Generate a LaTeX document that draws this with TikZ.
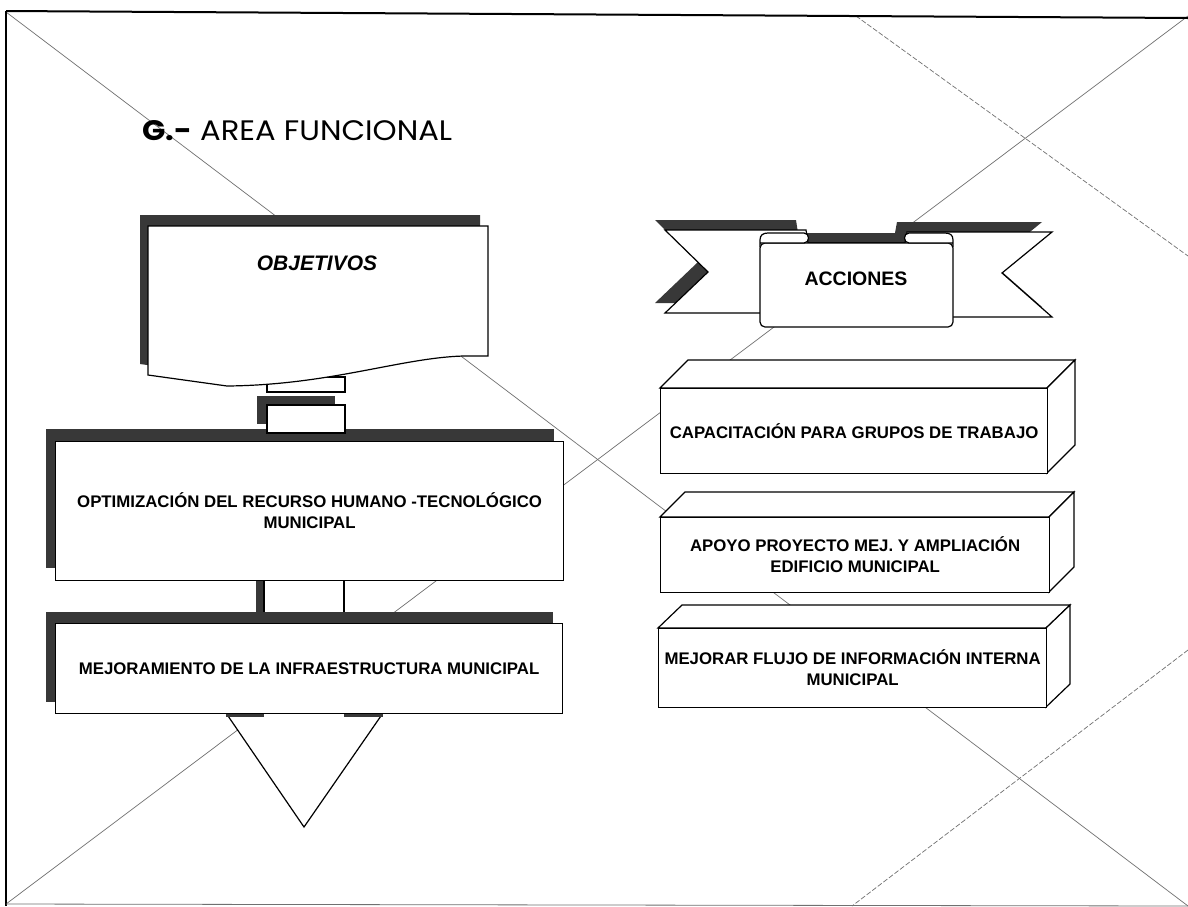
\documentclass[tikz,border=0pt]{standalone}
\usepackage{fontspec}
\usepackage{graphicx}
\newfontfamily\arialf{Liberation Sans}
\newfontfamily\titlef{Poppins}
\definecolor{shad}{HTML}{383838}
\definecolor{bgl}{HTML}{707070}
\tikzset{
  bgline/.style={draw=bgl, line width=0.7pt},
  shadowfill/.style={fill=shad, draw=none},
  boxw/.style={draw=black, fill=white, line width=1.2pt, line join=miter},
  boxtext/.style={font=\arialf\bfseries\fontsize{16.8}{21}\selectfont, align=center, text=black},
}
\begin{document}
\begin{tikzpicture}[x=1pt,y=-1pt]
\useasboundingbox (0,0) rectangle (1188,906);
\fill[white] (0,0) rectangle (1188,906);
% background template lines
\draw[bgline] (6,12) -- (1188,906);
\draw[bgline] (6,904) -- (1188,16);
\draw[bgline, dash pattern=on 5pt off 2pt] (856,16) -- (1188,256);
\draw[bgline, dash pattern=on 5pt off 2pt] (1188,650) -- (852,906);
% frame
\draw[line width=2pt] (6,11) -- (1188,18);
\draw[line width=1.3pt] (6,11) -- (6,906);
\draw[bgl, line width=0.8pt] (6,904) -- (1188,906);
% title
\node[anchor=base west, inner sep=0pt] (title) at (142,140)
  {\resizebox{310pt}{20pt}{\titlef{\bfseries G.-} AREA FUNCIONAL}};

% ---------- left column ----------
% small connector rectangle 1
\draw[boxw] (267,377) rectangle (345,392);
% OBJETIVOS document shape
\fill[shadowfill, shift={(-8,-11)}] (148,226) -- (488,226) -- (488,356) -- (463,356)
  .. controls (400,358) and (330,385) .. (227,386) -- (148,375) -- cycle;
\draw[boxw] (148,226) -- (488,226) -- (488,356) -- (463,356)
  .. controls (400,358) and (330,385) .. (227,386) -- (148,375) -- cycle;
\node[font=\arialf\bfseries\itshape\fontsize{21}{25}\selectfont] (obj) at (317,263) {OBJETIVOS};

% OPTIMIZACION shadow
\fill[shadowfill] (46,429) rectangle (554,568);
% small connector rectangle 2
\fill[shadowfill] (257,396) rectangle (335,424);
\draw[boxw] (267,405) rectangle (345,433);
% connector between the two boxes
\fill[shadowfill] (256,572) rectangle (336,630);
\draw[boxw] (264,575) rectangle (344,628);
% OPTIMIZACION box
\node[boxw, minimum width=508pt, minimum height=139pt, inner sep=0pt, anchor=north west,
      boxtext] (opt) at (55,441) {OPTIMIZACIÓN DEL RECURSO HUMANO -TECNOLÓGICO\\MUNICIPAL};

% triangle
\draw[boxw] (226,713) -- (383,713) -- (304,827) -- cycle;
\fill[shadowfill] (226,711) rectangle (264,717);
\fill[shadowfill] (344,711) rectangle (383,717);
% MEJORAMIENTO
\fill[shadowfill] (46,612) rectangle (553,702);
\node[boxw, minimum width=507pt, minimum height=90pt, inner sep=0pt, anchor=north west,
      boxtext] (mej) at (55,623) {MEJORAMIENTO DE LA INFRAESTRUCTURA MUNICIPAL};

% ---------- ACCIONES ribbon ----------
\fill[shadowfill, shift={(-10,-10)}] (665,230) -- (806,230) -- (808,243) -- (905,243) -- (907,232)
  -- (1052,232) -- (1002,273) -- (1052,317) -- (900,317) -- (820,313) -- (665,313) -- (708,272) -- cycle;
\draw[boxw] (665,230) -- (806,230) -- (808,243) -- (905,243) -- (907,232)
  -- (1052,232) -- (1002,273) -- (1052,317) -- (900,317) -- (820,313) -- (665,313) -- (708,272) -- cycle;
\draw[boxw, rounded corners=5pt] (760,243) -- (760,327) -- (953,327) -- (953,243) -- cycle;
\draw[boxw] (760,247) -- (760,240) .. controls (760,235) and (763,233) .. (768,233) -- (804,233)
  .. controls (810,233) and (810,243) .. (804,243) -- (760,243);
\draw[boxw] (953,247) -- (953,240) .. controls (953,235) and (950,233) .. (945,233) -- (909,233)
  .. controls (903,233) and (903,243) .. (909,243) -- (953,243);
\node[font=\arialf\bfseries\fontsize{19.5}{23}\selectfont] (acc) at (856,279) {ACCIONES};

% ---------- 3D boxes ----------
% CAPACITACION
\draw[boxw] (660,388) -- (688,360) -- (1075,360) -- (1047,388) -- cycle;
\draw[boxw] (1047,388) -- (1075,360) -- (1075,445) -- (1047,473) -- cycle;
\node[boxw, minimum width=387pt, minimum height=85pt, inner sep=0pt, anchor=north west,
      boxtext] (cap) at (660,388) {CAPACITACIÓN PARA GRUPOS DE TRABAJO};
% APOYO
\draw[boxw] (660,517) -- (685,492) -- (1074,492) -- (1049,517) -- cycle;
\draw[boxw] (1049,517) -- (1074,492) -- (1074,567) -- (1049,592) -- cycle;
\node[boxw, minimum width=389pt, minimum height=75pt, inner sep=0pt, anchor=north west,
      boxtext] (apo) at (660,517) {APOYO PROYECTO MEJ. Y AMPLIACIÓN\\EDIFICIO MUNICIPAL};
% MEJORAR
\draw[boxw] (658,628) -- (682,605) -- (1070,605) -- (1046,628) -- cycle;
\draw[boxw] (1046,628) -- (1070,605) -- (1070,684) -- (1046,707) -- cycle;
\node[boxw, minimum width=388pt, minimum height=79pt, inner sep=0pt, anchor=north west,
      boxtext] (mjr) at (658,628) {MEJORAR FLUJO DE INFORMACIÓN INTERNA\\MUNICIPAL};
\end{tikzpicture}
\end{document}
